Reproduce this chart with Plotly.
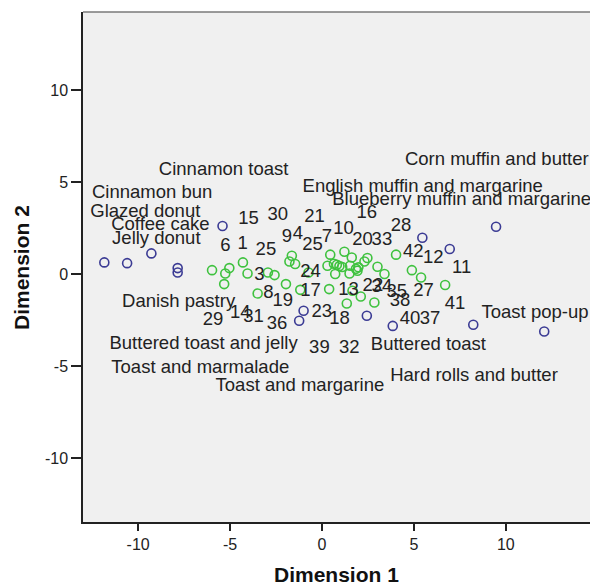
import plotly.graph_objects as go

# ---- Data ----
food_names = ["Cinnamon bun", "Glazed donut", "Jelly donut", "Coffee cake", "Danish pastry",
              "Cinnamon toast", "English muffin and margarine", "Blueberry muffin and margarine",
              "Corn muffin and butter", "Buttered toast and jelly", "Toast and marmalade",
              "Toast and margarine", "Buttered toast", "Hard rolls and butter", "Toast pop-up"]
food_x = [-11.84, -10.60, -9.28, -7.85, -7.85, -5.41, 5.46, 6.95, 9.47, -1.00, -1.24, 2.44, 3.85, 8.23, 12.09]
food_y = [0.65, 0.61, 1.14, 0.34, 0.10, 2.63, 1.99, 1.38, 2.59, -1.98, -2.52, -2.25, -2.80, -2.74, -3.10]

food_label_x = [-9.24, -9.61, -9.01, -8.79, -7.80, -5.35, 5.48, 7.60, 9.51, -6.44, -6.62, -1.20, 5.79, 8.27, 11.59]
food_label_y = [4.42, 3.37, 1.92, 2.68, -1.53, 5.64, 4.73, 4.00, 6.18, -3.79, -5.12, -6.06, -3.88, -5.52, -2.11]

subject_x = [-5.98, -5.26, -5.04, -4.30, -4.05, -5.32, -2.94, -2.58, -1.96, -3.50, -1.64, -1.77, -1.46, -1.18,
             -0.73, 0.45, 1.22, 0.30, 0.81, 0.72, 1.53, 1.62, 1.50, 1.98, 1.93, 2.47, 2.31, 3.02, 3.40, 4.03,
             4.89, 5.39, 6.70, 0.39, 1.66, 2.11, 1.35, 2.85, 0.95, 0.65, 1.85, 1.10]
subject_y = [0.23, 0.05, 0.34, 0.65, 0.05, -0.53, 0.10, -0.04, -0.53, -1.04, 1.01, 0.70, 0.56, -0.84,
             0.10, 1.07, 1.23, 0.47, 0.52, 0.02, 0.47, 0.92, 0.05, 0.38, 0.20, 0.89, 0.70, 0.41, 0.02, 1.07,
             0.23, -0.17, -0.58, -0.80, -0.89, -1.20, -1.58, -1.53, 0.45, 0.58, 0.30, 0.40]

subject_labels = ["15", "30", "21", "16", "10", "7", "20", "33", "28", "9", "4", "25", "25", "6", "1",
                  "42", "12", "11", "3", "24", "8", "17", "13", "22", "34", "35", "38", "27", "41", "19",
                  "29", "14", "31", "36", "23", "18", "40", "37", "39", "32"]
subject_label_x = [-3.99, -2.40, -0.40, 2.44, 1.17, 0.27, 2.20, 3.26, 4.30, -1.91, -1.31, -0.52, -3.05, -5.26, -4.32,
                   4.97, 6.06, 7.60, -3.40, -0.62, -2.91, -0.62, 1.44, 2.77, 3.26, 4.07, 4.25, 5.52, 7.24, -2.13,
                   -5.93, -4.45, -3.72, -2.45, -0.01, 0.95, 4.79, 5.88, -0.14, 1.49]
subject_label_y = [3.01, 3.19, 3.08, 3.31, 2.46, 2.01, 1.87, 1.87, 2.59, 2.01, 2.15, 1.59, 1.28, 1.50, 1.61,
                   1.19, 0.89, 0.32, -0.08, 0.12, -1.04, -0.95, -0.89, -0.67, -0.71, -0.98, -1.44, -0.93, -1.62, -1.49,
                   -2.52, -2.13, -2.34, -2.74, -2.09, -2.47, -2.43, -2.43, -4.04, -4.01]

tick_vals = [-10, -5, 0, 5, 10]
tick_text = ["-10", "-5", "0", "5", "10"]

FONT = "Liberation Sans, Arial, sans-serif"
BLUE = "#3b3b94"
GREEN = "#3fc23f"
TEXT = "#222222"

fig = go.Figure()

fig.add_trace(go.Scatter(
    x=food_x, y=food_y, mode="markers", name="Foods",
    marker=dict(symbol="circle-open", size=9, color=BLUE, line=dict(width=1.6, color=BLUE)),
    hovertext=food_names, showlegend=False))

fig.add_trace(go.Scatter(
    x=subject_x, y=subject_y, mode="markers", name="Subjects",
    marker=dict(symbol="circle-open", size=9, color=GREEN, line=dict(width=1.6, color=GREEN)),
    showlegend=False))

fig.add_trace(go.Scatter(
    x=food_label_x, y=food_label_y, mode="text", text=food_names,
    textposition="middle center", textfont=dict(family=FONT, size=18.5, color=TEXT),
    hoverinfo="skip", showlegend=False, cliponaxis=False))

fig.add_trace(go.Scatter(
    x=subject_label_x, y=subject_label_y, mode="text", text=subject_labels,
    textposition="middle center", textfont=dict(family=FONT, size=18.5, color=TEXT),
    hoverinfo="skip", showlegend=False, cliponaxis=False))

axis_common = dict(
    tickvals=tick_vals, ticktext=tick_text, showgrid=False, zeroline=False,
    showline=True, linecolor="#222222", linewidth=1.5,
    ticks="outside", tickcolor="#222222", tickwidth=1.5,
    tickfont=dict(family=FONT, size=16, color=TEXT),
)

fig.update_xaxes(range=[-13.0, 14.58], ticklen=7, **axis_common)
fig.update_yaxes(range=[-13.45, 14.25], ticklen=10, **axis_common)

fig.update_layout(
    width=590, height=586,
    margin=dict(l=83, r=0, t=12, b=64),
    paper_bgcolor="white", plot_bgcolor="#f0f0f0",
    showlegend=False,
    shapes=[dict(type="line", xref="paper", yref="paper", x0=0, x1=1, y0=1, y1=1,
                 line=dict(color="#7a7a7a", width=1.5))],
    annotations=[
        dict(text="<b>Dimension 1</b>", xref="paper", yref="paper", x=0.5, y=-0.103,
             xanchor="center", yanchor="middle", showarrow=False,
             font=dict(family=FONT, size=21, color="#111111")),
        dict(text="<b>Dimension 2</b>", xref="paper", yref="paper", x=-0.1223, y=0.5,
             xanchor="center", yanchor="middle", textangle=-90, showarrow=False,
             font=dict(family=FONT, size=21, color="#111111")),
    ],
)

fig.write_html(
    "out.html",
    config={"displayModeBar": False},
    post_script="document.body.style.margin='0';document.body.style.overflow='hidden';",
)
